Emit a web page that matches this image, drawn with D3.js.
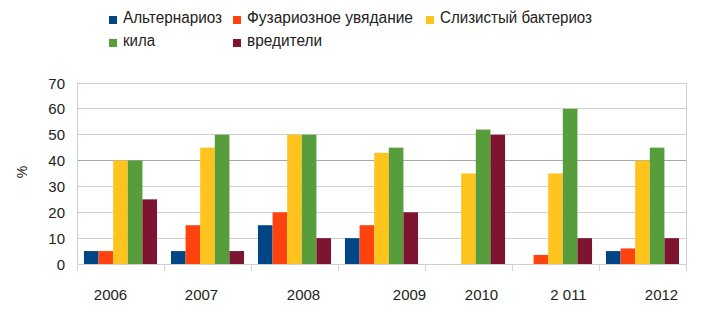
<!DOCTYPE html>
<html><head><meta charset="utf-8">
<script src="https://cdn.jsdelivr.net/npm/d3@7"></script>
<style>body{margin:0;background:#fff}svg{display:block;font-family:"Liberation Sans",Arial,sans-serif}</style>
</head><body><svg id="c" width="709" height="321"></svg>
<script>
const years = ["2006","2007","2008","2009","2010","2 011","2012"];
const seriesNames = ["Альтернариоз","Фузариозное увядание","Слизистый бактериоз","кила","вредители"];
const alternaria = [5,5,15,10,0,0,5];
const fusarium = [5,15,20,15,0,3.5,6];
const bacteriosis = [40,45,50,43,35,35,40];
const kila = [40,50,50,45,52,60,45];
const pests = [25,5,10,20,50,10,10];
const yTicks = [0,10,20,30,40,50,60,70];

const series = [alternaria,fusarium,bacteriosis,kila,pests];
const colors = ["#004586","#ff420e","#ffc31e","#579d3c","#7e1530"];
const labelDx = [-10,-6,9,28,13,13,19];

const svg = d3.select("#c");
const L=77,R=686,T=83,B=264;
const x0 = d3.scaleBand().domain(years).range([L,R]).paddingInner(0.16).paddingOuter(0.08);
const x1 = d3.scaleBand().domain(d3.range(series.length)).range([0,x0.bandwidth()]);
const y = d3.scaleLinear().domain([0,70]).range([B,T]);

// grid
svg.append("g").selectAll("line").data(yTicks).join("line")
  .attr("x1",L).attr("x2",R).attr("y1",d=>y(d)).attr("y2",d=>y(d))
  .attr("stroke",d=>d===40?"#a8a8a8":"#d0d0d0").attr("stroke-width",1)
  .attr("shape-rendering","crispEdges");
svg.append("line").attr("x1",L).attr("x2",L).attr("y1",T).attr("y2",B).attr("stroke","#d0d0d0").attr("shape-rendering","crispEdges");
svg.append("line").attr("x1",R).attr("x2",R).attr("y1",T).attr("y2",B).attr("stroke","#d0d0d0").attr("shape-rendering","crispEdges");

// bars
const g = svg.append("g");
years.forEach((yr,i)=>{
  series.forEach((s,j)=>{
    if(s[i]<=0) return;
    g.append("rect").attr("x",x0(yr)+x1(j)).attr("width",x1.bandwidth())
     .attr("y",y(s[i])).attr("height",y(0)-y(s[i])).attr("fill",colors[j]);
  });
});

// x axis
const step = x0.step();
const bounds = d3.range(years.length+1).map(i=>L+i*step);
svg.append("line").attr("x1",L).attr("x2",R).attr("y1",B).attr("y2",B).attr("stroke","#d0d0d0").attr("shape-rendering","crispEdges");
svg.append("g").selectAll("line").data(bounds).join("line")
  .attr("x1",d=>d).attr("x2",d=>d).attr("y1",B).attr("y2",B+7).attr("stroke","#d0d0d0").attr("shape-rendering","crispEdges");
svg.append("g").selectAll("text").data(years).join("text")
  .attr("x",(d,i)=>x0(d)+x0.bandwidth()/2+labelDx[i]).attr("y",300)
  .attr("text-anchor","middle").attr("font-size",15).attr("fill","#222").text(d=>d);

// y labels
svg.append("g").selectAll("text").data(yTicks).join("text")
  .attr("x",65).attr("y",d=>y(d)+5.5).attr("text-anchor","end")
  .attr("font-size",15).attr("fill","#222").text(d=>d);
svg.append("text").attr("transform","translate(27,172) rotate(-90)").attr("text-anchor","middle")
  .attr("font-size",14).attr("fill","#222").text("%");

// legend
const legPos = [[109,23],[233,23],[426,23],[109,46],[233,46]];
const legW = [99,166,152,32,75];
seriesNames.forEach((n,j)=>{
  const [lx,ly]=legPos[j];
  svg.append("rect").attr("x",lx).attr("y",ly-7).attr("width",8).attr("height",8).attr("fill",colors[j]);
  svg.append("text").attr("x",lx+14).attr("y",ly).attr("font-size",16).attr("fill","#222")
    .attr("textLength",legW[j]).attr("lengthAdjust","spacingAndGlyphs").text(n);
});
</script></body></html>
